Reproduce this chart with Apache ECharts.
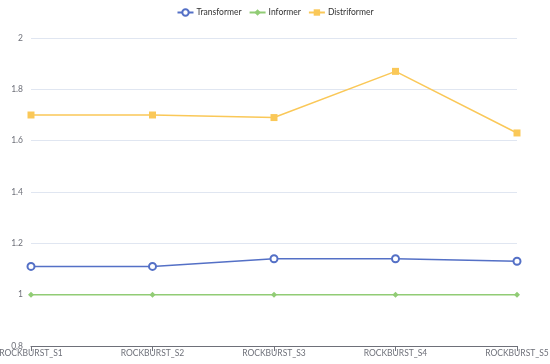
<!DOCTYPE html>
<html><head><meta charset="utf-8">
<script src="https://cdn.jsdelivr.net/npm/echarts@6/dist/echarts.min.js"></script>
<style>html,body{margin:0;padding:0;background:#fff}#c{width:550px;height:364px}</style>
</head><body><div id="c"></div>
<script>
const categories = ['ROCKBURST_S1','ROCKBURST_S2','ROCKBURST_S3','ROCKBURST_S4','ROCKBURST_S5'];
const transformer = [1.11, 1.11, 1.14, 1.14, 1.13];
const informer = [1, 1, 1, 1, 1];
const distriformer = [1.70, 1.70, 1.69, 1.87, 1.63];
const yTicks = [0.8, 1, 1.2, 1.4, 1.6, 1.8, 2];

const chart = echarts.init(document.getElementById('c'));
chart.setOption({
  animation: false,
  textStyle: { fontFamily: 'Lato' },
  legend: { top: 3, itemGap: 7, itemWidth: 16, itemHeight: 8, textStyle: { fontSize: 8.5, color: '#333', padding: [0, 0, 0, -2] },
    data: ['Transformer','Informer','Distriformer'] },
  grid: { left: 31, right: 33, top: 38, bottom: 18, containLabel: false, outerBoundsMode: 'none' },
  xAxis: { type: 'category', data: categories, boundaryGap: false,
    axisLine: { lineStyle: { color: '#6E7079' } },
    axisTick: { alignWithLabel: true },
    axisLabel: { fontSize: 8.5, color: '#6E7079', margin: 3, interval: 0, hideOverlap: false } },
  yAxis: { type: 'value', min: yTicks[0], max: yTicks[yTicks.length-1], interval: 0.2,
    axisLabel: { fontSize: 8.5, color: '#6E7079', formatter: v => String(Math.round(v*10)/10) },
    splitLine: { lineStyle: { color: '#E0E6F1' } } },
  series: [
    { name: 'Transformer', type: 'line', data: transformer, symbol: 'emptyCircle', symbolSize: 7,
      itemStyle: { color: '#5470c6' }, lineStyle: { width: 1.5 } },
    { name: 'Informer', type: 'line', data: informer, symbol: 'diamond', symbolSize: 6,
      itemStyle: { color: '#91cc75' }, lineStyle: { width: 1.5 } },
    { name: 'Distriformer', type: 'line', data: distriformer, symbol: 'rect', symbolSize: 7,
      itemStyle: { color: '#fac858' }, lineStyle: { width: 1.5 } }
  ]
});
</script></body></html>
